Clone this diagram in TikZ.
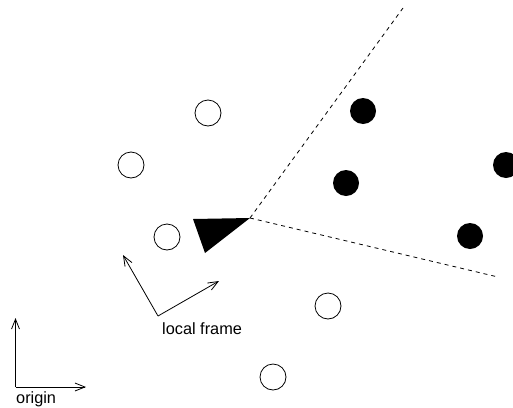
\documentclass[tikz,border=0pt]{standalone}
\usepackage{fontspec}
\setmainfont{Liberation Sans}
\usetikzlibrary{arrows.meta}
\begin{document}
\begin{tikzpicture}[x=1pt,y=-1pt,
  open/.style={circle,draw,line width=0.8pt,minimum size=26pt,inner sep=0pt},
  full/.style={circle,fill,minimum size=26pt,inner sep=0pt},
  ray/.style={line width=0.8pt,dash pattern=on 4pt off 4pt},
  frame/.style={line width=0.8pt,-{Straight Barb[length=10pt,width=8pt]}},
  lbl/.style={font=\fontsize{16.3}{19}\selectfont,inner sep=0pt}]
\useasboundingbox (0,0) rectangle (513,407);
\node[open] (o1) at (208,113) {};
\node[open] (o2) at (131,165) {};
\node[open] (o3) at (167,237) {};
\node[open] (o4) at (328,306) {};
\node[open] (o5) at (273,377) {};
\node[full] (f1) at (363,111) {};
\node[full] (f2) at (346,183) {};
\node[full] (f3) at (506,165) {};
\node[full] (f4) at (470,236) {};
\coordinate (apex) at (250,218);
\coordinate (t1) at (193,219);
\coordinate (t2) at (205,253);
\fill (t1) -- (apex) -- (t2) -- cycle;
\coordinate (r1) at (403,8);
\coordinate (r2) at (498,277);
\draw[ray] (apex) -- (r1);
\draw[ray] (apex) -- (r2);
\coordinate (lf) at (158,316);
\coordinate (lfa) at (123,255);
\coordinate (lfb) at (219,281);
\draw[frame] (lf) -- (lfa);
\draw[frame] (lf) -- (lfb);
\node[lbl,anchor=base west] (lft) at (162,334) {local frame};
\coordinate (og) at (15.5,387);
\coordinate (oga) at (15.5,318);
\coordinate (ogb) at (86,387);
\draw[frame] (og) -- (oga);
\draw[frame] (og) -- (ogb);
\node[lbl,anchor=base west] (ogt) at (16,403) {origin};
\end{tikzpicture}
\end{document}
